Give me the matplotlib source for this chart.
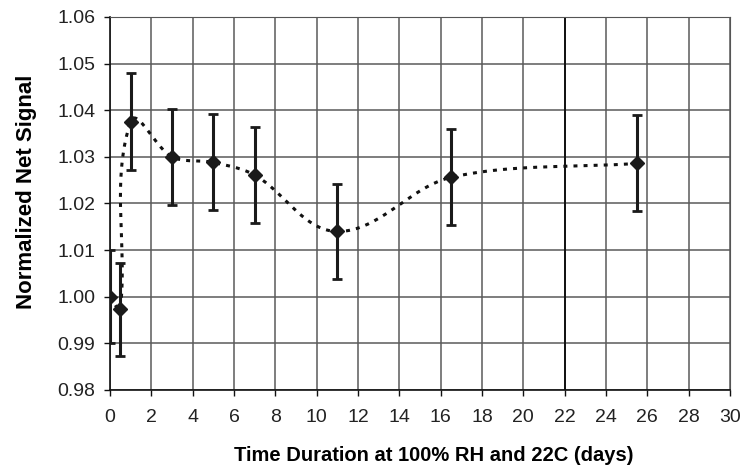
import numpy as np
import matplotlib.pyplot as plt

days = [0, 0.5, 1, 3, 5, 7, 11, 16.5, 25.5]
signal = [1.000, 0.9973, 1.0375, 1.0300, 1.0288, 1.0261, 1.0140, 1.0256, 1.0286]
err = [0.0100, 0.0100, 0.0104, 0.0103, 0.0103, 0.0103, 0.0101, 0.0103, 0.0103]


def smooth(x, y, xscale, yscale, n=40):
    # bezier smoothing in screen space; handle length follows each segment so
    # short segments don't overshoot
    p = np.column_stack([np.asarray(x, float) * xscale, np.asarray(y, float) * yscale])
    m = len(p)
    tang = np.zeros_like(p)
    for i in range(m):
        d = p[min(i + 1, m - 1)] - p[max(i - 1, 0)]
        tang[i] = d / np.linalg.norm(d)
    t = np.linspace(0, 1, n)[:, None]
    out = []
    for i in range(m - 1):
        a, b = p[i], p[i + 1]
        L = np.linalg.norm(b - a) / 3
        c1 = a + tang[i] * L
        c2 = b - tang[i + 1] * L
        out.append((1 - t)**3 * a + 3 * (1 - t)**2 * t * c1 + 3 * (1 - t) * t**2 * c2 + t**3 * b)
    out = np.vstack(out)
    return out[:, 0] / xscale, out[:, 1] / yscale


plt.rcParams.update({'font.family': ['Liberation Sans', 'DejaVu Sans']})
fig = plt.figure(figsize=(7.43, 4.71), dpi=100)
ax = fig.add_axes([0.148, 0.172, 0.8345, 0.792])

# pixels per data unit on each axis
sx, sy = smooth(days, signal, 620 / 30, 373 / 0.08)
ax.plot(sx, sy, color='#111111', lw=2.2, linestyle=(0, (1.3, 2.0)), zorder=3)
ax.errorbar(days, signal, yerr=err, fmt='D', color='#1a1a1a', ms=7,
            ecolor='#1a1a1a', elinewidth=2.2, capsize=3.8, capthick=2, zorder=4)

ax.set_xlim(0, 30)
ax.set_ylim(0.98, 1.06)
ax.set_xticks(np.arange(0, 31, 2))
ax.set_yticks(np.arange(0.98, 1.0601, 0.01))
ax.set_yticklabels([f'{v:.2f}' for v in np.arange(0.98, 1.0601, 0.01)])
ax.grid(True, color='#5a5a5a', lw=1.1)
ax.axvline(22, color='#111111', lw=1.4, zorder=1)
ax.set_axisbelow(True)
for s in ['top', 'right']:
    ax.spines[s].set_color('#555555')
for s in ['left', 'bottom']:
    ax.spines[s].set_color('#111111')
    ax.spines[s].set_linewidth(1.2)
ax.tick_params(direction='out', length=4.5, width=1, labelsize=14, colors='#111111', labelcolor='#222222')
ax.tick_params(axis='y', pad=6)
ax.tick_params(axis='x', pad=9)
ax.set_xlabel('Time Duration at 100% RH and 22C (days)', fontsize=14.5, fontweight='bold')
ax.set_ylabel('Normalized Net Signal', fontsize=16, fontweight='bold')
ax.xaxis.set_label_coords(0.5226, -0.151)
ax.yaxis.set_label_coords(-0.118, 0.532)

fig.savefig('out.png', dpi=100)
